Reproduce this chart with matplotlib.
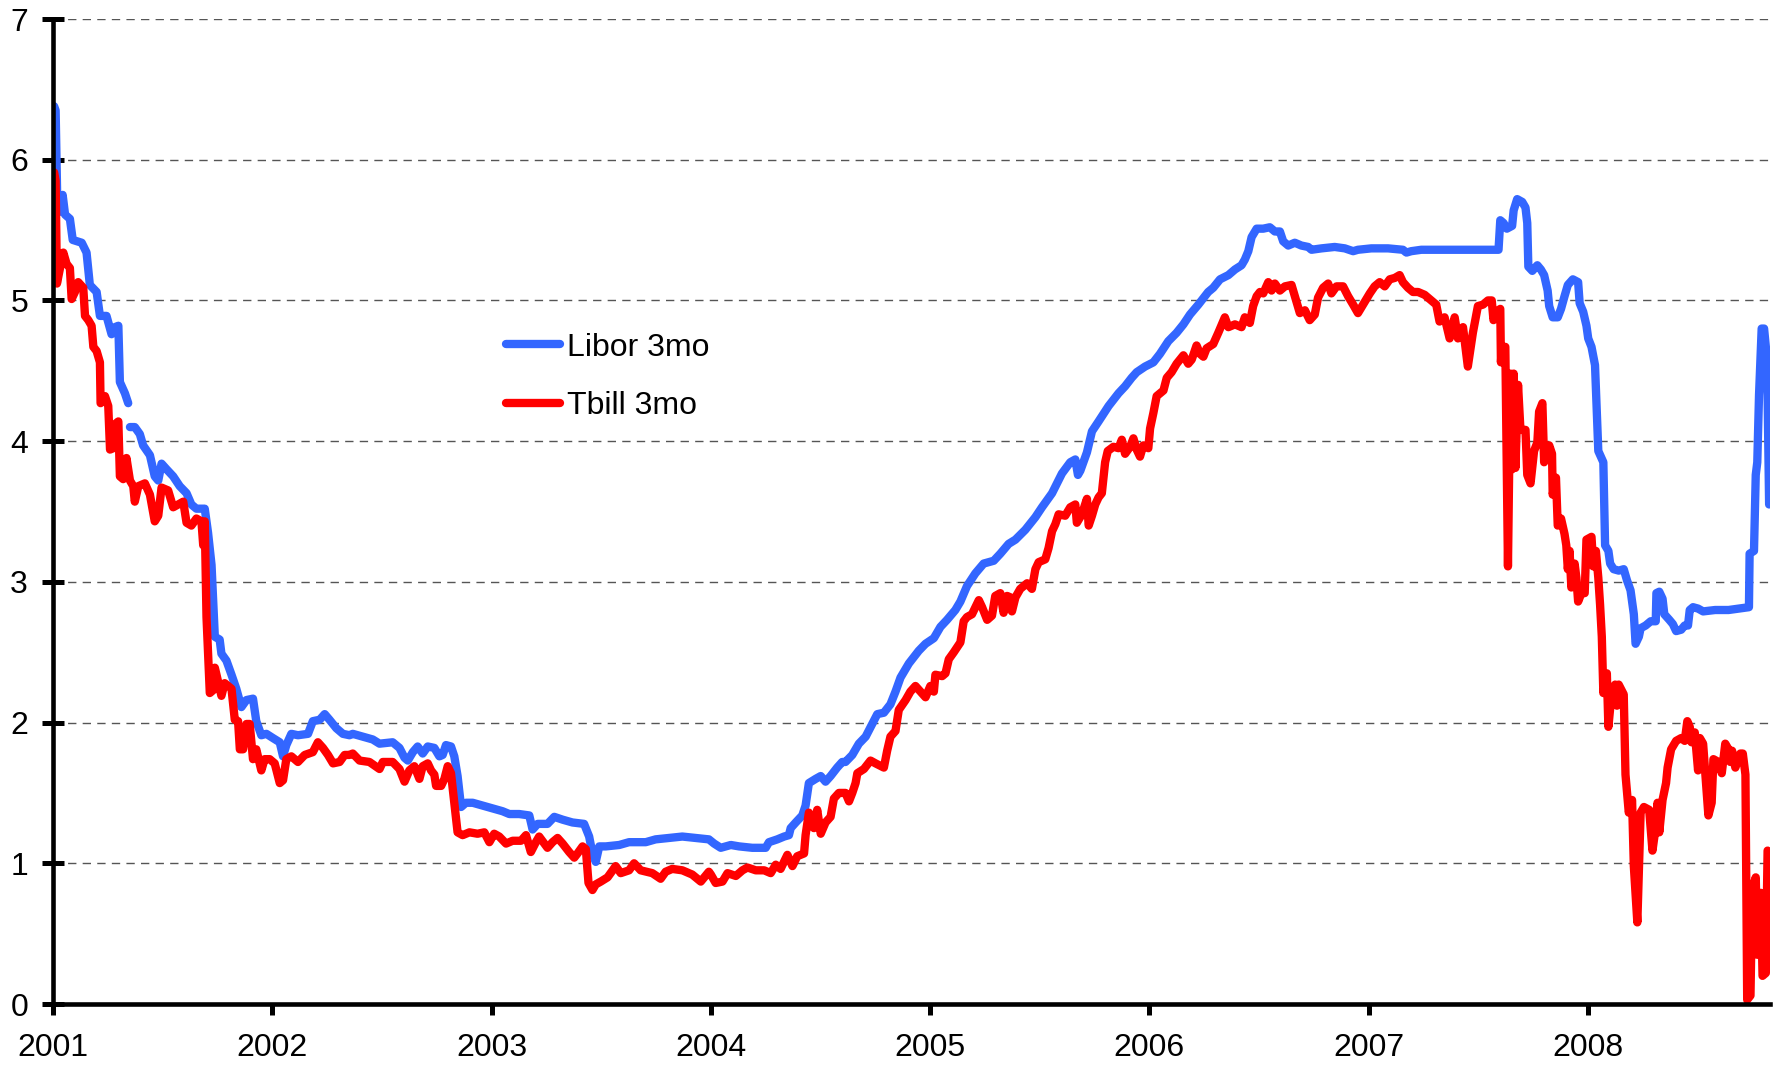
import numpy as np
from matplotlib import pyplot as plt

plt.rcParams['font.family'] = ['Liberation Sans', 'DejaVu Sans']

# 3 month rates, dates as fractional years
libor_dates = [
    2001.005, 2001.012, 2001.020, 2001.032, 2001.044, 2001.055, 2001.077, 2001.090, 2001.131, 2001.153,
    2001.168, 2001.199, 2001.214, 2001.244, 2001.267, 2001.282, 2001.298, 2001.305, 2001.328, 2001.343,
    2001.347, 2001.351, 2001.373, 2001.396, 2001.411, 2001.442, 2001.464, 2001.480, 2001.495, 2001.518,
    2001.548, 2001.578, 2001.609, 2001.631, 2001.654, 2001.692, 2001.707, 2001.723, 2001.730, 2001.738,
    2001.760, 2001.768, 2001.791, 2001.814, 2001.836, 2001.859, 2001.882, 2001.912, 2001.927, 2001.950,
    2001.973, 2002.003, 2002.034, 2002.049, 2002.064, 2002.087, 2002.117, 2002.163, 2002.185, 2002.216,
    2002.239, 2002.261, 2002.292, 2002.322, 2002.352,
    2002.367, 2002.413, 2002.458, 2002.489, 2002.549, 2002.580, 2002.603, 2002.618, 2002.641, 2002.663,
    2002.686, 2002.709, 2002.739, 2002.762, 2002.777, 2002.792, 2002.815, 2002.830, 2002.845, 2002.861,
    2002.883, 2002.914, 2002.959, 2003.005, 2003.050, 2003.081, 2003.126, 2003.172, 2003.187, 2003.210,
    2003.255, 2003.286, 2003.324, 2003.369, 2003.422, 2003.445, 2003.460, 2003.475, 2003.491, 2003.521,
    2003.582, 2003.627, 2003.703, 2003.748, 2003.809, 2003.870, 2003.931, 2003.991,
    2004.015, 2004.045, 2004.091, 2004.129, 2004.189, 2004.250, 2004.265, 2004.303, 2004.334, 2004.356,
    2004.364, 2004.387, 2004.417, 2004.432, 2004.447, 2004.478, 2004.501, 2004.523, 2004.546, 2004.576,
    2004.599, 2004.614, 2004.645, 2004.675, 2004.706, 2004.736, 2004.759, 2004.789, 2004.819, 2004.842,
    2004.865, 2004.903, 2004.948, 2004.979, 2005.017, 2005.047, 2005.077, 2005.115, 2005.138, 2005.168,
    2005.206, 2005.244, 2005.290, 2005.320, 2005.358, 2005.389, 2005.434, 2005.480, 2005.510, 2005.556,
    2005.601, 2005.639, 2005.662, 2005.674, 2005.685, 2005.715, 2005.738, 2005.768, 2005.814,
    2005.859, 2005.889, 2005.919, 2005.942, 2005.980, 2006.018, 2006.048, 2006.086, 2006.124, 2006.155,
    2006.185, 2006.223, 2006.268, 2006.291, 2006.322, 2006.360, 2006.390, 2006.420, 2006.435, 2006.451,
    2006.466, 2006.489, 2006.519, 2006.549, 2006.572, 2006.595, 2006.610, 2006.633, 2006.663, 2006.693,
    2006.724, 2006.739, 2006.785, 2006.845, 2006.891, 2006.929, 2006.951, 2007.012, 2007.088, 2007.156,
    2007.172, 2007.194, 2007.240, 2007.316, 2007.392, 2007.468, 2007.544,
    2007.592, 2007.600, 2007.615, 2007.630, 2007.654, 2007.661, 2007.677, 2007.700, 2007.715, 2007.723,
    2007.728, 2007.746, 2007.769, 2007.785, 2007.800, 2007.816, 2007.823, 2007.839, 2007.862, 2007.877,
    2007.893, 2007.908, 2007.931, 2007.955, 2007.962, 2007.978, 2007.993, 2008.001, 2008.016, 2008.032,
    2008.039, 2008.047, 2008.070, 2008.078, 2008.093, 2008.101, 2008.117, 2008.140, 2008.163, 2008.178,
    2008.194, 2008.209, 2008.217, 2008.232, 2008.240, 2008.263, 2008.286, 2008.309, 2008.312, 2008.325,
    2008.340, 2008.348, 2008.371, 2008.387, 2008.402, 2008.425, 2008.441, 2008.456, 2008.464, 2008.479,
    2008.502, 2008.525, 2008.580, 2008.641, 2008.686, 2008.734, 2008.737, 2008.757, 2008.765, 2008.772,
    2008.780, 2008.792, 2008.803, 2008.811, 2008.819, 2008.826,
]
libor_rates = [
    6.38, 6.35, 5.66, 5.63, 5.75, 5.61, 5.58, 5.43, 5.41, 5.34,
    5.11, 5.06, 4.89, 4.89, 4.76, 4.81, 4.82, 4.42, 4.34, 4.27,
    np.nan, 4.10, 4.10, 4.05, 3.97, 3.90, 3.75, 3.72, 3.84, 3.80,
    3.75, 3.68, 3.63, 3.55, 3.52, 3.52, 3.35, 3.12, 2.88, 2.61,
    2.59, 2.49, 2.44, 2.34, 2.24, 2.11, 2.16, 2.17, 2.01, 1.91,
    1.92, 1.89, 1.86, 1.76, 1.84, 1.92, 1.91, 1.92, 2.01, 2.02,
    2.06, 2.02, 1.96, 1.92, 1.91,
    1.92, 1.90, 1.88, 1.85, 1.86, 1.82, 1.75, 1.73, 1.79, 1.83,
    1.78, 1.83, 1.82, 1.76, 1.77, 1.84, 1.83, 1.76, 1.62, 1.40,
    1.43, 1.43, 1.41, 1.39, 1.37, 1.35, 1.35, 1.34, 1.24, 1.28,
    1.28, 1.33, 1.31, 1.29, 1.28, 1.19, 1.07, 1.01, 1.12, 1.12,
    1.13, 1.15, 1.15, 1.17, 1.18, 1.19, 1.18, 1.17,
    1.14, 1.11, 1.13, 1.12, 1.11, 1.11, 1.15, 1.17, 1.19, 1.20,
    1.25, 1.29, 1.34, 1.41, 1.57, 1.60, 1.62, 1.58, 1.62, 1.68,
    1.72, 1.72, 1.77, 1.85, 1.90, 1.99, 2.06, 2.07, 2.13, 2.22,
    2.32, 2.42, 2.51, 2.56, 2.60, 2.68, 2.73, 2.80, 2.86, 2.97,
    3.06, 3.13, 3.15, 3.20, 3.27, 3.30, 3.37, 3.46, 3.53, 3.63,
    3.77, 3.85, 3.87, 3.76, 3.79, 3.92, 4.07, 4.14, 4.25,
    4.34, 4.39, 4.45, 4.49, 4.53, 4.56, 4.62, 4.71, 4.77, 4.83,
    4.90, 4.97, 5.06, 5.09, 5.15, 5.18, 5.22, 5.25, 5.29, 5.35,
    5.45, 5.51, 5.51, 5.52, 5.49, 5.49, 5.42, 5.39, 5.41, 5.39,
    5.38, 5.36, 5.37, 5.38, 5.37, 5.35, 5.36, 5.37, 5.37, 5.36,
    5.34, 5.35, 5.36, 5.36, 5.36, 5.36, 5.36,
    5.36, 5.57, 5.55, 5.51, 5.53, 5.64, 5.72, 5.70, 5.66, 5.55,
    5.24, 5.21, 5.25, 5.22, 5.18, 5.07, 4.96, 4.88, 4.88, 4.94,
    5.03, 5.11, 5.15, 5.13, 4.98, 4.92, 4.82, 4.73, 4.67, 4.54,
    4.25, 3.93, 3.85, 3.26, 3.22, 3.13, 3.09, 3.08, 3.09, 3.01,
    2.94, 2.77, 2.56, 2.61, 2.67, 2.69, 2.72, 2.72, 2.92, 2.93,
    2.88, 2.77, 2.73, 2.70, 2.65, 2.66, 2.69, 2.69, 2.80, 2.82,
    2.81, 2.79, 2.80, 2.80, 2.81, 2.82, 3.20, 3.22, 3.76, 3.85,
    4.33, 4.80, 4.80, 4.67, 4.33, 3.55,
]

tbill_dates = [
    2001.005, 2001.012, 2001.018, 2001.032, 2001.047, 2001.062, 2001.077, 2001.085, 2001.100, 2001.115,
    2001.138, 2001.146, 2001.161, 2001.176, 2001.184, 2001.199, 2001.214, 2001.217, 2001.237, 2001.252,
    2001.260, 2001.275, 2001.282, 2001.298, 2001.305, 2001.320, 2001.335, 2001.351, 2001.366, 2001.373,
    2001.389, 2001.419, 2001.442, 2001.464, 2001.480, 2001.495, 2001.525, 2001.548, 2001.571, 2001.594,
    2001.609, 2001.631, 2001.654, 2001.677, 2001.685, 2001.692, 2001.700, 2001.715, 2001.730, 2001.738,
    2001.753, 2001.768, 2001.783, 2001.814, 2001.829, 2001.844, 2001.852, 2001.867, 2001.882, 2001.897,
    2001.912, 2001.927, 2001.950, 2001.965, 2001.988, 2002.011, 2002.034, 2002.049, 2002.064, 2002.087,
    2002.117, 2002.148, 2002.185, 2002.208, 2002.231, 2002.254, 2002.277, 2002.307, 2002.330, 2002.352,
    2002.367, 2002.398, 2002.443, 2002.489, 2002.504, 2002.549, 2002.580, 2002.603, 2002.625, 2002.648,
    2002.671, 2002.686, 2002.709, 2002.724, 2002.739, 2002.747, 2002.770, 2002.785, 2002.800, 2002.815,
    2002.830, 2002.845, 2002.868, 2002.899, 2002.936, 2002.967, 2002.990, 2003.012, 2003.035, 2003.066,
    2003.096, 2003.134, 2003.157, 2003.179, 2003.202, 2003.217, 2003.255, 2003.278, 2003.301, 2003.324,
    2003.354, 2003.377, 2003.392, 2003.415, 2003.430, 2003.442, 2003.460, 2003.475, 2003.498, 2003.529,
    2003.566, 2003.589, 2003.627, 2003.650, 2003.680, 2003.733, 2003.771, 2003.794, 2003.824, 2003.870,
    2003.915, 2003.954, 2003.991,
    2004.000, 2004.022, 2004.053, 2004.076, 2004.114, 2004.144, 2004.167, 2004.205, 2004.243, 2004.273,
    2004.296, 2004.318, 2004.349, 2004.372, 2004.394, 2004.425, 2004.432, 2004.447, 2004.470, 2004.485,
    2004.501, 2004.523, 2004.546, 2004.561, 2004.584, 2004.614, 2004.630, 2004.645, 2004.660, 2004.668,
    2004.698, 2004.728, 2004.751, 2004.789, 2004.804, 2004.819, 2004.842, 2004.857, 2004.888, 2004.910,
    2004.933, 2004.956, 2004.979, 2005.001, 2005.017, 2005.024, 2005.055, 2005.070, 2005.085, 2005.108,
    2005.138, 2005.153, 2005.168, 2005.191, 2005.222, 2005.237, 2005.260, 2005.282, 2005.297, 2005.320,
    2005.335, 2005.351, 2005.366, 2005.373, 2005.389, 2005.411, 2005.442, 2005.464, 2005.480, 2005.495,
    2005.525, 2005.540, 2005.556, 2005.571, 2005.586, 2005.616, 2005.639, 2005.662, 2005.669, 2005.692,
    2005.715, 2005.723, 2005.738, 2005.753, 2005.768, 2005.783, 2005.798, 2005.810,
    2005.836, 2005.859, 2005.874, 2005.889, 2005.912, 2005.927, 2005.942, 2005.957, 2005.972, 2005.995,
    2006.003, 2006.018, 2006.033, 2006.064, 2006.079, 2006.101, 2006.124, 2006.155, 2006.177, 2006.193,
    2006.215, 2006.231, 2006.246, 2006.261, 2006.291, 2006.314, 2006.344, 2006.360, 2006.390, 2006.420,
    2006.435, 2006.458, 2006.473, 2006.489, 2006.504, 2006.519, 2006.542, 2006.557, 2006.572, 2006.595,
    2006.618, 2006.648, 2006.671, 2006.686, 2006.709, 2006.731, 2006.754, 2006.769, 2006.792, 2006.815,
    2006.830, 2006.853, 2006.883, 2006.906, 2006.929, 2006.951, 2006.974, 2007.005, 2007.027, 2007.050,
    2007.073, 2007.096, 2007.119, 2007.141, 2007.156, 2007.179, 2007.202, 2007.225, 2007.255, 2007.285,
    2007.308, 2007.323, 2007.346, 2007.369, 2007.392, 2007.407, 2007.430, 2007.452, 2007.475, 2007.498,
    2007.521, 2007.544,
    2007.561, 2007.569, 2007.584, 2007.600, 2007.603, 2007.607, 2007.623, 2007.635, 2007.646, 2007.654,
    2007.661, 2007.669, 2007.681, 2007.692, 2007.715, 2007.723, 2007.738, 2007.754, 2007.769, 2007.777,
    2007.792, 2007.800, 2007.816, 2007.823, 2007.836, 2007.839, 2007.854, 2007.862, 2007.877, 2007.893,
    2007.901, 2007.908, 2007.916, 2007.924, 2007.939, 2007.947, 2007.955, 2007.970, 2007.985, 2007.993,
    2008.016, 2008.024, 2008.036, 2008.047, 2008.055, 2008.063, 2008.070, 2008.086, 2008.093, 2008.109,
    2008.124, 2008.132, 2008.140, 2008.163, 2008.171, 2008.186, 2008.201, 2008.209, 2008.225, 2008.240,
    2008.255, 2008.279, 2008.294, 2008.309, 2008.317, 2008.325, 2008.340, 2008.356, 2008.363, 2008.379,
    2008.402, 2008.425, 2008.441, 2008.453, 2008.464, 2008.472, 2008.487, 2008.502, 2008.510, 2008.525,
    2008.549, 2008.564, 2008.572, 2008.595, 2008.610, 2008.626, 2008.641, 2008.649, 2008.657, 2008.672,
    2008.695, 2008.706, 2008.718, 2008.726, 2008.741, 2008.749, 2008.765, 2008.772, 2008.780, 2008.788,
    2008.796, 2008.811, 2008.819,
]
tbill_rates = [
    5.91, 5.85, 5.12, 5.23, 5.34, 5.26, 5.23, 5.01, 5.06, 5.13,
    5.09, 4.89, 4.86, 4.82, 4.67, 4.64, 4.56, 4.27, 4.32, 4.25,
    3.94, 3.95, 4.12, 4.14, 3.75, 3.73, 3.88, 3.72, 3.68, 3.57,
    3.68, 3.70, 3.62, 3.43, 3.47, 3.67, 3.65, 3.53, 3.55, 3.57,
    3.42, 3.40, 3.45, 3.43, 3.26, 3.43, 2.75, 2.21, 2.23, 2.39,
    2.29, 2.19, 2.28, 2.24, 2.02, 2.01, 1.81, 1.81, 1.99, 1.99,
    1.74, 1.81, 1.66, 1.74, 1.74, 1.71, 1.57, 1.59, 1.74, 1.76,
    1.72, 1.77, 1.79, 1.86, 1.82, 1.77, 1.71, 1.72, 1.77, 1.77,
    1.78, 1.73, 1.72, 1.67, 1.72, 1.72, 1.67, 1.58, 1.66, 1.69,
    1.60, 1.69, 1.71, 1.66, 1.63, 1.55, 1.55, 1.60, 1.69, 1.64,
    1.43, 1.22, 1.20, 1.22, 1.21, 1.22, 1.15, 1.21, 1.19, 1.14,
    1.16, 1.16, 1.20, 1.08, 1.15, 1.19, 1.11, 1.15, 1.18, 1.14,
    1.08, 1.04, 1.07, 1.12, 1.10, 0.86, 0.81, 0.85, 0.87, 0.90,
    0.98, 0.93, 0.95, 1.00, 0.95, 0.93, 0.89, 0.94, 0.96, 0.95,
    0.92, 0.87, 0.94,
    0.92, 0.86, 0.87, 0.93, 0.91, 0.95, 0.97, 0.95, 0.95, 0.93,
    0.99, 0.96, 1.06, 0.98, 1.05, 1.07, 1.20, 1.36, 1.25, 1.38,
    1.21, 1.29, 1.33, 1.46, 1.50, 1.50, 1.44, 1.50, 1.57, 1.64,
    1.67, 1.73, 1.71, 1.68, 1.80, 1.90, 1.94, 2.09, 2.16, 2.22,
    2.26, 2.22, 2.18, 2.26, 2.22, 2.34, 2.33, 2.35, 2.45, 2.50,
    2.57, 2.72, 2.75, 2.77, 2.87, 2.82, 2.73, 2.76, 2.90, 2.92,
    2.78, 2.90, 2.89, 2.79, 2.89, 2.95, 2.99, 2.95, 3.09, 3.14,
    3.16, 3.24, 3.36, 3.41, 3.48, 3.47, 3.53, 3.55, 3.42, 3.48,
    3.59, 3.40, 3.47, 3.55, 3.60, 3.63, 3.85, 3.93,
    3.96, 3.95, 4.01, 3.91, 3.96, 4.02, 3.94, 3.89, 3.97, 3.95,
    4.09, 4.20, 4.32, 4.36, 4.45, 4.49, 4.55, 4.61, 4.55, 4.58,
    4.68, 4.62, 4.60, 4.66, 4.69, 4.77, 4.88, 4.81, 4.83, 4.81,
    4.88, 4.84, 4.96, 5.03, 5.06, 5.05, 5.13, 5.07, 5.12, 5.07,
    5.10, 5.11, 4.99, 4.91, 4.93, 4.86, 4.90, 5.02, 5.09, 5.12,
    5.05, 5.10, 5.10, 5.03, 4.97, 4.91, 4.97, 5.05, 5.10, 5.13,
    5.10, 5.15, 5.16, 5.18, 5.13, 5.09, 5.06, 5.06, 5.04, 5.00,
    4.97, 4.85, 4.88, 4.73, 4.88, 4.73, 4.81, 4.53, 4.77, 4.96,
    4.97, 5.00,
    5.00, 4.86, 4.92, 4.94, 4.56, 4.67, 4.67, 3.11, 4.48, 3.80,
    4.48, 3.81, 4.40, 4.08, 4.08, 3.76, 3.70, 3.93, 3.99, 4.21,
    4.27, 3.85, 3.93, 3.97, 3.91, 3.62, 3.74, 3.40, 3.45, 3.34,
    3.26, 3.09, 3.22, 2.96, 3.13, 3.03, 2.86, 2.92, 2.92, 3.30,
    3.32, 3.11, 3.22, 3.03, 2.84, 2.61, 2.21, 2.35, 1.97, 2.23,
    2.27, 2.12, 2.27, 2.20, 1.63, 1.36, 1.45, 0.98, 0.58, 1.36,
    1.40, 1.38, 1.09, 1.26, 1.43, 1.22, 1.45, 1.57, 1.68, 1.81,
    1.87, 1.89, 1.87, 2.01, 1.97, 1.86, 1.93, 1.66, 1.89, 1.85,
    1.34, 1.43, 1.74, 1.72, 1.64, 1.85, 1.81, 1.72, 1.80, 1.68,
    1.78, 1.78, 1.63, 0.03, 0.06, 0.82, 0.90, 0.35, 0.35, 0.79,
    0.20, 0.22, 1.09,
]

year_ticks = list(range(2001, 2009))
rate_ticks = list(range(0, 8))

fig = plt.figure(figsize=(17.75, 10.7), dpi=100)
ax = fig.add_axes([53 / 1775, 1 - 1004 / 1070, (1770 - 53) / 1775, (1004 - 19) / 1070])

ax.plot(libor_dates, libor_rates, color='#3366FF', lw=6, solid_joinstyle='round',
        solid_capstyle='round', label='Libor 3mo', zorder=3)
ax.plot(tbill_dates, tbill_rates, color='#FF0000', lw=6, solid_joinstyle='round',
        solid_capstyle='round', label='Tbill 3mo', zorder=4)

ax.set_xlim(2001, 2008.83)
ax.set_ylim(0, 7)
ax.set_xticks(year_ticks)
ax.set_yticks(rate_ticks)
ax.set_xticklabels([str(y) for y in year_ticks])

for r in rate_ticks[1:]:
    ax.axhline(r, color='#555555', lw=1.0, dashes=(6, 4.5), zorder=1)

for s in ['top', 'right']:
    ax.spines[s].set_visible(False)
for s in ['left', 'bottom']:
    ax.spines[s].set_linewidth(3.3)
    ax.spines[s].set_zorder(5)

ax.tick_params(axis='y', direction='inout', length=16, width=3.6, pad=10, labelsize=23)
ax.tick_params(axis='x', direction='out', length=8, width=3.6, pad=13, labelsize=23)

leg = ax.legend(loc='center left', bbox_to_anchor=(506 / 1775, 1 - 377 / 1070),
                bbox_transform=fig.transFigure, frameon=False, fontsize=23,
                handlelength=1.7, handletextpad=0.2, labelspacing=0.9,
                borderpad=0, borderaxespad=0)
for line in leg.get_lines():
    line.set_linewidth(6)

fig.savefig('out.png', dpi=100)
